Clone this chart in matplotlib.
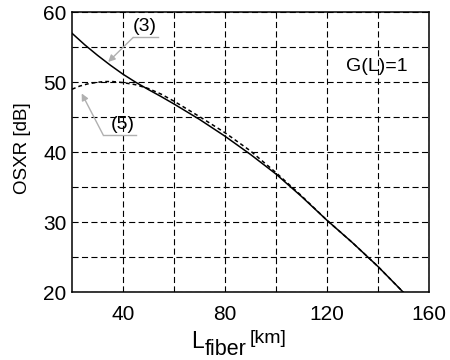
import numpy as np
import matplotlib
matplotlib.use('Agg')
import matplotlib.pyplot as plt

plt.rcParams['font.family'] = ['Liberation Sans', 'DejaVu Sans']

# curve (3), solid
x_3 = [20, 25, 30, 35, 40, 45, 50, 55, 60, 70, 80, 90, 100, 110, 120, 130, 140, 150]
y_3 = [57.0, 55.35, 53.85, 52.45, 51.15, 50.0, 48.95, 47.95, 46.9, 44.7, 42.3, 39.7, 36.9, 33.7, 30.3, 27.1, 23.7, 20.0]

# curve (5), dashed
x_5 = [20, 23, 26, 30, 33, 36, 40, 45, 50, 55, 60, 70, 80, 90, 100, 110, 120, 130, 140, 150]
y_5 = [49.0, 49.45, 49.75, 50.0, 50.1, 50.1, 49.95, 49.65, 49.1, 48.3, 47.3, 45.1, 42.8, 40.2, 37.1, 33.8, 30.3, 27.1, 23.7, 20.0]

xticks = [40, 80, 120, 160]
yticks = [20, 30, 40, 50, 60]

fig = plt.figure(figsize=(4.5, 3.6), dpi=100)
ax = fig.add_axes([0.16, 0.188, 0.793, 0.778])

ax.plot(x_3, y_3, color='black', lw=1.1)
ax.plot(x_5, y_5, color='black', lw=1.1, dashes=(2.5, 2))

ax.set_xlim(20, 160)
ax.set_ylim(20, 60)
ax.set_xticks(xticks)
ax.set_yticks(yticks)
ax.set_xticks([60, 100, 140], minor=True)
ax.set_yticks([25, 35, 45, 55], minor=True)
ax.grid(True, which='both', color='black', lw=0.8, dashes=(5.5, 3))
ax.tick_params(which='both', length=0, labelsize=15)
ax.tick_params(axis='x', pad=9)
ax.tick_params(axis='y', pad=4)
for s in ax.spines.values():
    s.set_linewidth(1.1)

# axis labels
fig.text(23 / 450, 1 - 148 / 360, 'OSXR [dB]', rotation=90, fontsize=13.5,
         ha='center', va='center')
fig.text(191.5 / 450, 1 - 348 / 360, 'L', fontsize=16.5, va='baseline')
fig.text(204.5 / 450, 1 - 355 / 360, 'fiber', fontsize=15.5, va='baseline')
fig.text(249.5 / 450, 1 - 343 / 360, '[km]', fontsize=14, va='baseline')

# labels with gray leader lines
gray = '#b0b0b0'
ax.text(48.7, 58.0, '(3)', fontsize=14, ha='center', va='center')
ax.plot([53.7, 44.0], [56.4, 56.4], color=gray, lw=1.0)
ax.annotate('', xy=(34.2, 52.9), xytext=(44.0, 56.4),
            arrowprops=dict(arrowstyle='-|>', color=gray, lw=1.0,
                            mutation_scale=10, shrinkA=0, shrinkB=0))

ax.text(40.1, 44.0, '(5)', fontsize=14, ha='center', va='center')
ax.plot([45.3, 32.2], [42.5, 42.5], color=gray, lw=1.0)
ax.annotate('', xy=(23.8, 48.4), xytext=(32.2, 42.5),
            arrowprops=dict(arrowstyle='-|>', color=gray, lw=1.0,
                            mutation_scale=10, shrinkA=0, shrinkB=0))

ax.text(139.4, 52.3, 'G(L)=1', fontsize=14, ha='center', va='center')

fig.savefig('out.png', dpi=100)
